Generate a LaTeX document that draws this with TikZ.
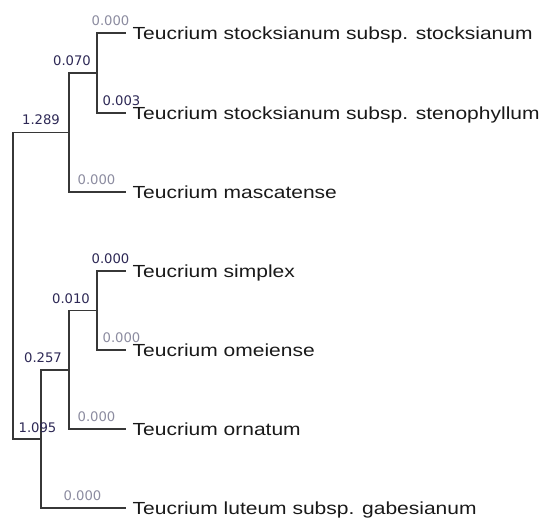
\documentclass[tikz,border=0pt]{standalone}
\usepackage{fontspec}
\setmainfont[FakeStretch=1.2]{Liberation Sans}
\newfontfamily\lblfont{DejaVu Sans}
\usepackage{tikz}

\definecolor{branchcol}{RGB}{55,55,55}
\definecolor{lbldark}{RGB}{45,40,85}
\definecolor{lbllight}{RGB}{140,140,160}

\begin{document}
\begin{tikzpicture}[
        x=1pt, y=-1pt,
        branch/.style={draw=branchcol, line width=1.2pt},
        leaf/.style={anchor=west, inner xsep=6.5pt, inner ysep=0pt, text height=12.6pt, text depth=0pt, text=black!90, font=\fontsize{17.5}{20}\selectfont},
        lengthdark/.style={anchor=base, inner sep=0pt, text=lbldark, font=\lblfont\fontsize{13.2}{15}\selectfont},
        lengthlight/.style={lengthdark, text=lbllight},
]
        \useasboundingbox (0,0) rectangle (542,519);

        % leaves
        \node[leaf] (stocks) at (126,33) {Teucrium stocksianum subsp. stocksianum};
        \node[leaf] (steno) at (126,113) {Teucrium stocksianum subsp. stenophyllum};
        \node[leaf] (masc) at (126,192) {Teucrium mascatense};
        \node[leaf] (simplex) at (126,271) {Teucrium simplex};
        \node[leaf] (omei) at (126,350) {Teucrium omeiense};
        \node[leaf] (ornat) at (126,429) {Teucrium ornatum};
        \node[leaf] (luteum) at (126,508) {Teucrium luteum subsp. gabesianum};

        % internal nodes
        \coordinate (stockpair) at (97,73);
        \coordinate (upper) at (69,132.5);
        \coordinate (simppair) at (97,310.5);
        \coordinate (middle) at (69,370);
        \coordinate (lower) at (41,439);
        \coordinate (root) at (13,285.75);

        \draw[branch] (stockpair) |- (stocks.west);
        \draw[branch] (stockpair) |- (steno.west);
        \draw[branch] (upper) |- (stockpair);
        \draw[branch] (upper) |- (masc.west);
        \draw[branch] (simppair) |- (simplex.west);
        \draw[branch] (simppair) |- (omei.west);
        \draw[branch] (middle) |- (simppair);
        \draw[branch] (middle) |- (ornat.west);
        \draw[branch] (lower) |- (middle);
        \draw[branch] (lower) |- (luteum.west);
        \draw[branch] (root) |- (upper);
        \draw[branch] (root) |- (lower);

        % branch lengths
        \node[lengthlight] (lstocks) at (110.5,25.5) {0.000};
        \node[lengthdark] (lstockpair) at (72,65.5) {0.070};
        \node[lengthdark] (lsteno) at (121.5,105.5) {0.003};
        \node[lengthdark] (lupper) at (41,125) {1.289};
        \node[lengthlight] (lmasc) at (96.5,184.5) {0.000};
        \node[lengthdark] (lsimplex) at (110.5,263.5) {0.000};
        \node[lengthdark] (lsimppair) at (71,303) {0.010};
        \node[lengthlight] (lomei) at (121.5,342.5) {0.000};
        \node[lengthdark] (lmiddle) at (43,362.5) {0.257};
        \node[lengthlight] (lornat) at (96.5,421.5) {0.000};
        \node[lengthdark] (llower) at (37.5,432) {1.095};
        \node[lengthlight] (lluteum) at (82.5,500.5) {0.000};
\end{tikzpicture}
\end{document}
